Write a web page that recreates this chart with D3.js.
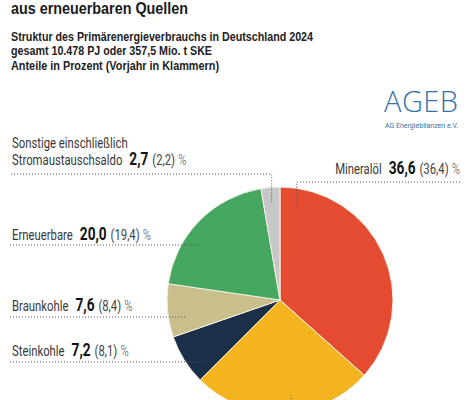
<!DOCTYPE html>
<html>
<head>
<meta charset="utf-8">
<script src="https://cdn.jsdelivr.net/npm/d3@7"></script>
<style>
  html, body { margin: 0; padding: 0; background: #fff; }
  svg { display: block; }
</style>
</head>
<body>
<svg id="chart" width="474" height="400"></svg>
<script>
// Primärenergieverbrauch 2024, Anteile in Prozent
const sources = ["Mineralöl", "Erdgas", "Steinkohle", "Braunkohle", "Erneuerbare", "Sonstige"];
const share2024 = [36.6, 25.9, 7.2, 7.6, 20.0, 2.7];
const share2023 = [36.4, 24.7, 8.1, 8.4, 19.4, 2.2];
const sliceColors = ["#e54b30", "#f3b41f", "#1b3048", "#c9bf8a", "#46a760", "#c7c7c7"];

const titleLine = "aus erneuerbaren Quellen";
const subtitleLines = [
    "Struktur des Primärenergieverbrauchs in Deutschland 2024",
    "gesamt 10.478 PJ oder 357,5 Mio. t SKE",
    "Anteile in Prozent (Vorjahr in Klammern)"
];

const fmt = (v) => d3.format(".1f")(v).replace(".", ",");

let svg = d3.select("#chart");

let cx = 280, cy = 300, r = 113;
let innerR = r * 0.85;

// --- header
svg.append("text")
    .attr("x", 11).attr("y", 14)
    .attr("font-family", "Liberation Sans, Arial, sans-serif")
    .attr("font-weight", "bold")
    .attr("font-size", 16)
    .attr("fill", "#1a1a1a")
    .attr("textLength", 177)
    .attr("lengthAdjust", "spacingAndGlyphs")
    .text(titleLine);

let subWidths = [302, 201, 208];
svg.append("g").selectAll("text")
    .data(subtitleLines)
    .enter()
    .append("text")
    .attr("x", 11)
    .attr("y", (d, i) => 41 + i * 14.3)
    .attr("font-family", "Liberation Sans, Arial, sans-serif")
    .attr("font-weight", "bold")
    .attr("font-size", 12)
    .attr("fill", "#222")
    .attr("textLength", (d, i) => subWidths[i])
    .attr("lengthAdjust", "spacingAndGlyphs")
    .text((d) => d);

// --- AGEB logo
let logo = svg.append("g").attr("fill", "#3572ab");
logo.append("text")
    .attr("x", 384).attr("y", 112)
    .attr("font-family", "Open Sans, sans-serif")
    .attr("font-weight", 300)
    .attr("font-size", 29)
    .attr("textLength", 74)
    .attr("lengthAdjust", "spacing")
    .text("AGEB");
logo.append("text")
    .attr("x", 385).attr("y", 128)
    .attr("font-family", "Roboto, sans-serif")
    .attr("font-size", 7.5)
    .attr("textLength", 73)
    .attr("lengthAdjust", "spacingAndGlyphs")
    .text("AG Energiebilanzen e.V.");

// --- pie
let pie = d3.pie().sort(null).value((d) => d.v);
let arcs = pie(sources.map((s, i) => ({ s: s, v: share2024[i], p: share2023[i], c: sliceColors[i] })));
let arcMkr = d3.arc().innerRadius(0).outerRadius(r);

let g = svg.append("g").attr("transform", "translate(" + cx + "," + cy + ")");
g.selectAll("path")
    .data(arcs)
    .enter()
    .append("path")
    .attr("d", arcMkr)
    .attr("fill", (d) => d.data.c)
    .attr("stroke", "#f3f1e4")
    .attr("stroke-width", 1);

// --- labels and dotted leaders
// h: horizontal leader at lineY ending on inner circle; v: vertical drop at angle
// Erdgas label sits below the visible frame, only its leader shows
const labelLayout = {
    "Sonstige":    { x: 12,  y: 165, anchor: "start", pre: "Sonstige einschließlich", name: "Stromaustauschsaldo", lineY: 174, x0: 11, kind: "v", deg: -5 },
    "Mineralöl":   { x: 460, y: 174, anchor: "end", name: "Mineralöl", lineY: 182, x0: 460, kind: "v", deg: 10 },
    "Erneuerbare": { x: 12,  y: 240, anchor: "start", name: "Erneuerbare", lineY: 245, x0: 10, kind: "h" },
    "Braunkohle":  { x: 12,  y: 311, anchor: "start", name: "Braunkohle", lineY: 317, x0: 10, kind: "h" },
    "Steinkohle":  { x: 12,  y: 356, anchor: "start", name: "Steinkohle", lineY: 362, x0: 10, kind: "h" },
    "Erdgas":      { hidden: true, lineY: 420, x0: 291, kind: "v", deg: 173.4 }
};

let squeeze = 0.78;
let lab = svg.append("g");
let leaders = svg.append("g")
    .attr("fill", "none")
    .attr("stroke", "#555")
    .attr("stroke-width", 1)
    .attr("stroke-dasharray", "1,2");

arcs.forEach((a) => {
    let L = labelLayout[a.data.s];
    if (!L.hidden) {
        let t = lab.append("text")
            .attr("transform", "translate(" + L.x + "," + L.y + ") scale(" + squeeze + ",1)")
            .attr("text-anchor", L.anchor)
            .attr("font-family", "Roboto, sans-serif")
            .attr("font-size", 14.5)
            .attr("fill", "#383838");
        t.append("tspan").text(L.name);
        t.append("tspan").attr("dx", 9).attr("font-weight", "bold").attr("font-size", 17.5).attr("fill", "#111").text(fmt(a.data.v));
        t.append("tspan").attr("dx", 5).attr("fill", "#444").text("(" + fmt(a.data.p) + ")");
        t.append("tspan").attr("dx", 4).attr("fill", "#888").text("%");
        if (L.pre) {
            lab.append("text")
                .attr("transform", "translate(" + L.x + "," + (L.y - 17) + ") scale(" + squeeze + ",1)")
                .attr("font-family", "Roboto, sans-serif")
                .attr("font-size", 14.5)
                .attr("fill", "#383838")
                .text(L.pre);
        }
    }

    let pts;
    if (L.kind === "h") {
        let dy = L.lineY - cy;
        let xe = cx - Math.sqrt(innerR * innerR - dy * dy);
        pts = [[L.x0, L.lineY], [xe, L.lineY]];
    } else {
        let ang = L.deg * Math.PI / 180;
        let xd = cx + innerR * Math.sin(ang);
        let yd = cy - innerR * Math.cos(ang);
        pts = [[L.x0, L.lineY], [xd, L.lineY], [xd, yd]];
    }
    leaders.append("path").attr("d", d3.line()(pts));
});
</script>
</body>
</html>
